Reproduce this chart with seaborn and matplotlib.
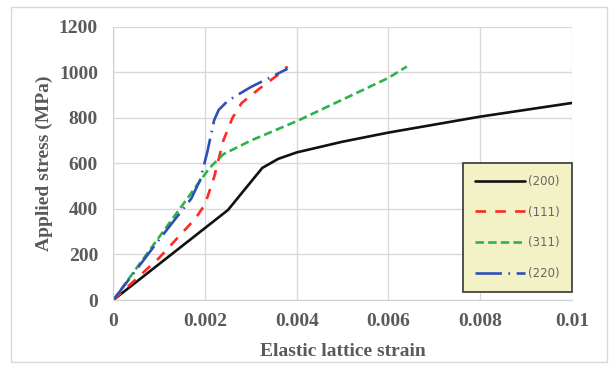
import numpy as np
import pandas as pd
import matplotlib
matplotlib.use("Agg")
import matplotlib.pyplot as plt
import seaborn as sns
from matplotlib.patches import Rectangle

# Data (strain, stress in MPa)
strain_200 = [0, 0.0025, 0.00325, 0.0036, 0.004, 0.005, 0.006, 0.007, 0.008, 0.009, 0.01]
stress_200 = [0, 395, 580, 620, 648, 695, 735, 770, 805, 835, 865]

strain_111 = [0, 0.001, 0.0018, 0.002, 0.0022, 0.0024, 0.0026, 0.0028, 0.0032, 0.0036, 0.0038]
stress_111 = [0, 185, 360, 420, 540, 700, 800, 865, 930, 990, 1025]

strain_311 = [0, 0.0021, 0.0024, 0.003, 0.004, 0.005, 0.006, 0.0064]
stress_311 = [0, 580, 640, 700, 785, 880, 975, 1025]

strain_220 = [0, 0.001, 0.0017, 0.0019, 0.00205, 0.0022, 0.0023, 0.0025, 0.003, 0.0035, 0.0038]
stress_220 = [0, 265, 445, 530, 650, 790, 835, 875, 935, 985, 1015]

labels = ["(200)", "(111)", "(311)", "(220)"]
colors = ["#111111", "#ff2a1f", "#2db34a", "#2f4fb5"]
dashes = [None, (4, 3.5), (3.2, 1.6), (10, 2.5, 0.6, 2.5)]

sns.set_style("whitegrid")
plt.rcParams["font.family"] = ["Liberation Serif", "DejaVu Serif"]

fig = plt.figure(figsize=(6.11, 3.65), dpi=100)
ax = fig.add_axes([0.1854, 0.178, 0.7506, 0.749])

series = [(strain_200, stress_200), (strain_111, stress_111),
          (strain_311, stress_311), (strain_220, stress_220)]
for (xs, ys), lab, col, ds in zip(series, labels, colors, dashes):
    df = pd.DataFrame({"strain": xs, "stress": ys})
    sns.lineplot(data=df, x="strain", y="stress", ax=ax, color=col,
                 linewidth=1.9, sort=False, label=lab)
    if ds is not None:
        ax.lines[-1].set_dashes(ds)

ax.set_xlim(0, 0.01)
ax.set_ylim(0, 1200)
ax.set_xticks([0, 0.002, 0.004, 0.006, 0.008, 0.01])
ax.set_xticklabels(["0", "0.002", "0.004", "0.006", "0.008", "0.01"])
ax.set_yticks(np.arange(0, 1201, 200))
ax.grid(True, color="#d9d9d9", linewidth=1.0)
for s in ax.spines.values():
    s.set_visible(False)
ax.spines["left"].set_visible(True)
ax.spines["bottom"].set_visible(True)
ax.spines["left"].set_color("#d0d0d0")
ax.spines["bottom"].set_color("#d0d0d0")
ax.tick_params(axis="both", length=0, labelsize=14, labelcolor="#5a5a5a")
ax.tick_params(axis="y", pad=11)
ax.tick_params(axis="x", pad=9)
for t in ax.get_xticklabels() + ax.get_yticklabels():
    t.set_fontweight("bold")

ax.set_xlabel("Elastic lattice strain", fontsize=14, fontweight="bold", color="#5a5a5a", labelpad=10)
ax.set_ylabel("Applied stress (MPa)", fontsize=14, fontweight="bold", color="#5a5a5a", labelpad=4)

leg = ax.legend(loc="lower right", bbox_to_anchor=(1.0, 0.03), borderaxespad=0, frameon=True,
                fancybox=False, handlelength=4.2, labelspacing=1.5, borderpad=1.0,
                handletextpad=0.3, prop={"family": "DejaVu Sans", "size": 8.5})
leg.get_frame().set_facecolor("#f3f1c6")
leg.get_frame().set_edgecolor("#444444")
leg.get_frame().set_linewidth(1.3)
leg.get_frame().set_alpha(1)
for t in leg.get_texts():
    t.set_color("#666666")

fig.patches.append(Rectangle((0.018, 0.008), 0.975, 0.972, transform=fig.transFigure,
                             fill=False, edgecolor="#d8d8d8", linewidth=1.0))

fig.savefig("out.png", dpi=100)
